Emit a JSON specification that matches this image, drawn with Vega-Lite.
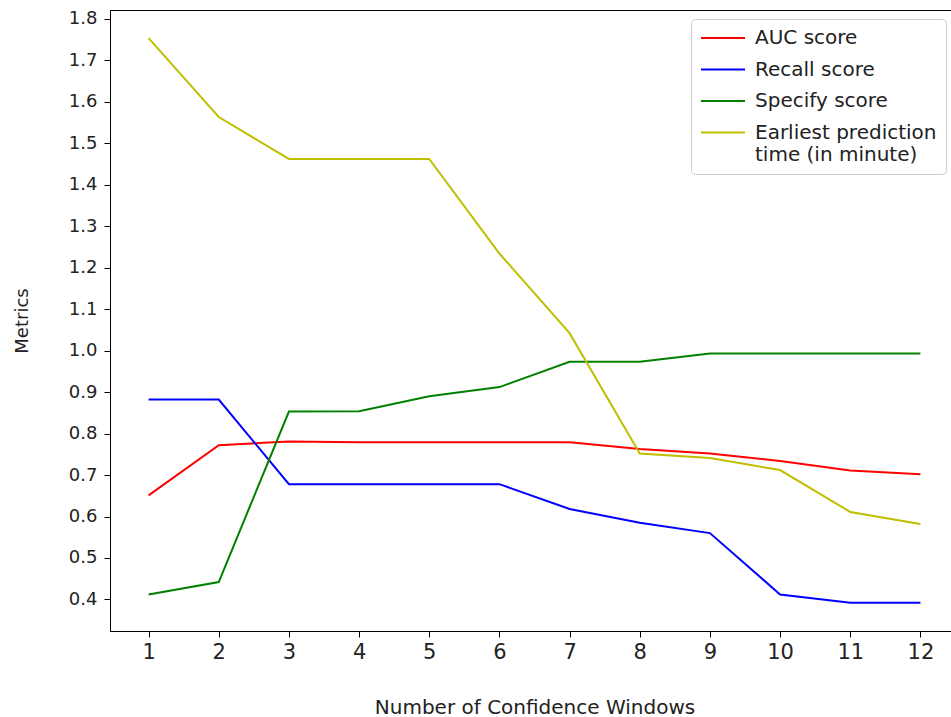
{
  "$schema": "https://vega.github.io/schema/vega-lite/v6.json",
  "autosize": {"type": "none"},
  "padding": {"left": 110, "top": 10, "right": 0, "bottom": 86},
  "width": 849,
  "height": 621,
  "background": "white",
  "config": {
    "font": "DejaVu Sans",
    "view": {"stroke": "black", "strokeWidth": 1},
    "axis": {
      "domainColor": "black",
      "tickColor": "black",
      "labelColor": "#222222",
      "titleColor": "#222222",
      "labelFont": "DejaVu Sans",
      "titleFont": "DejaVu Sans",
      "titleFontWeight": "normal",
      "tickSize": 6,
      "grid": false
    }
  },
  "data": {
    "values": [
      {"n": 1, "metric": "AUC score", "value": 0.651},
      {"n": 2, "metric": "AUC score", "value": 0.772},
      {"n": 3, "metric": "AUC score", "value": 0.781},
      {"n": 4, "metric": "AUC score", "value": 0.779},
      {"n": 5, "metric": "AUC score", "value": 0.779},
      {"n": 6, "metric": "AUC score", "value": 0.779},
      {"n": 7, "metric": "AUC score", "value": 0.779},
      {"n": 8, "metric": "AUC score", "value": 0.763},
      {"n": 9, "metric": "AUC score", "value": 0.752},
      {"n": 10, "metric": "AUC score", "value": 0.734},
      {"n": 11, "metric": "AUC score", "value": 0.711},
      {"n": 12, "metric": "AUC score", "value": 0.702},
      {"n": 1, "metric": "Recall score", "value": 0.882},
      {"n": 2, "metric": "Recall score", "value": 0.882},
      {"n": 3, "metric": "Recall score", "value": 0.678},
      {"n": 4, "metric": "Recall score", "value": 0.678},
      {"n": 5, "metric": "Recall score", "value": 0.678},
      {"n": 6, "metric": "Recall score", "value": 0.678},
      {"n": 7, "metric": "Recall score", "value": 0.618},
      {"n": 8, "metric": "Recall score", "value": 0.585},
      {"n": 9, "metric": "Recall score", "value": 0.56},
      {"n": 10, "metric": "Recall score", "value": 0.412},
      {"n": 11, "metric": "Recall score", "value": 0.392},
      {"n": 12, "metric": "Recall score", "value": 0.392},
      {"n": 1, "metric": "Specify score", "value": 0.412},
      {"n": 2, "metric": "Specify score", "value": 0.442},
      {"n": 3, "metric": "Specify score", "value": 0.853},
      {"n": 4, "metric": "Specify score", "value": 0.854},
      {"n": 5, "metric": "Specify score", "value": 0.89},
      {"n": 6, "metric": "Specify score", "value": 0.912},
      {"n": 7, "metric": "Specify score", "value": 0.973},
      {"n": 8, "metric": "Specify score", "value": 0.973},
      {"n": 9, "metric": "Specify score", "value": 0.993},
      {"n": 10, "metric": "Specify score", "value": 0.993},
      {"n": 11, "metric": "Specify score", "value": 0.993},
      {"n": 12, "metric": "Specify score", "value": 0.993},
      {"n": 1, "metric": "Earliest prediction time (in minute)", "value": 1.753},
      {"n": 2, "metric": "Earliest prediction time (in minute)", "value": 1.563},
      {"n": 3, "metric": "Earliest prediction time (in minute)", "value": 1.462},
      {"n": 4, "metric": "Earliest prediction time (in minute)", "value": 1.462},
      {"n": 5, "metric": "Earliest prediction time (in minute)", "value": 1.462},
      {"n": 6, "metric": "Earliest prediction time (in minute)", "value": 1.234},
      {"n": 7, "metric": "Earliest prediction time (in minute)", "value": 1.042},
      {"n": 8, "metric": "Earliest prediction time (in minute)", "value": 0.752},
      {"n": 9, "metric": "Earliest prediction time (in minute)", "value": 0.741},
      {"n": 10, "metric": "Earliest prediction time (in minute)", "value": 0.712},
      {"n": 11, "metric": "Earliest prediction time (in minute)", "value": 0.611},
      {"n": 12, "metric": "Earliest prediction time (in minute)", "value": 0.582}
    ]
  },
  "mark": {"type": "line", "strokeWidth": 2},
  "encoding": {
    "x": {
      "field": "n",
      "type": "quantitative",
      "scale": {"domain": [0.45, 12.55], "nice": false, "zero": false},
      "axis": {
        "values": [1, 2, 3, 4, 5, 6, 7, 8, 9, 10, 11, 12],
        "format": "d",
        "title": "Number of Confidence Windows",
        "labelFontSize": 21,
        "titleFontSize": 20,
        "labelPadding": 4,
        "titlePadding": 35
      }
    },
    "y": {
      "field": "value",
      "type": "quantitative",
      "scale": {"domain": [0.324, 1.821], "nice": false, "zero": false},
      "axis": {
        "values": [0.4, 0.5, 0.6, 0.7, 0.8, 0.9, 1.0, 1.1, 1.2, 1.3, 1.4, 1.5, 1.6, 1.7, 1.8],
        "format": ".1f",
        "title": "Metrics",
        "labelFontSize": 18,
        "titleFontSize": 18,
        "labelPadding": 7,
        "titlePadding": 37
      }
    },
    "color": {
      "field": "metric",
      "type": "nominal",
      "sort": ["AUC score", "Recall score", "Specify score", "Earliest prediction time (in minute)"],
      "scale": {
        "domain": ["AUC score", "Recall score", "Specify score", "Earliest prediction time (in minute)"],
        "range": ["#ff0000", "#0000ff", "#008000", "#bfbf00"]
      },
      "legend": {
        "title": null,
        "orient": "none",
        "legendX": 581,
        "legendY": 9,
        "symbolType": "stroke",
        "symbolSize": 1936,
        "symbolStrokeWidth": 2,
        "clipHeight": 20,
        "labelFontSize": 20,
        "labelFont": "DejaVu Sans",
        "labelColor": "#222222",
        "labelLimit": 300,
        "labelOffset": 9,
        "rowPadding": 11.5,
        "padding": 9,
        "strokeColor": "#cccccc",
        "fillColor": "white",
        "cornerRadius": 4,
        "labelExpr": "datum.label == 'Earliest prediction time (in minute)' ? ['Earliest prediction', 'time (in minute)'] : datum.label"
      }
    }
  }
}
